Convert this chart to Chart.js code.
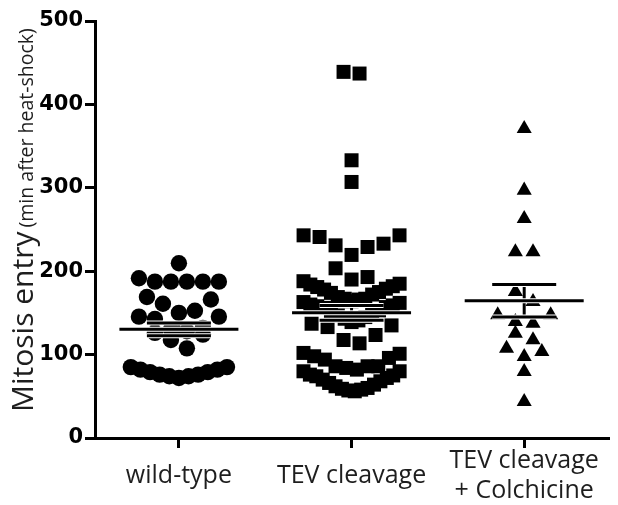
<!DOCTYPE html>
<html>
<head>
<meta charset="utf-8">
<script src="https://cdn.jsdelivr.net/npm/chart.js@4.4.1/dist/chart.umd.min.js"></script>
<style>
  html, body { margin: 0; padding: 0; background: #fff; }
  canvas { display: block; }
</style>
</head>
<body>
<canvas id="chart" width="618" height="505"></canvas>
<script>
// mitosis entry times, minutes after heat-shock
const groups = ['wild-type', 'TEV cleavage', ['TEV cleavage', '+ Colchicine']];
const positions = [1, 2, 3];
const yTicks = [0, 100, 200, 300, 400, 500];
const titleMain = 'Mitosis entry';
const titleUnit = '(min after heat-shock)';

const wildType = [209.5, 187.5, 187.5, 187.5, 187.5, 187.5, 191.5, 166, 169, 161,
  152.6, 150, 145.5, 142.7, 145.5, 132, 130, 128, 126, 124, 117.5, 107.5,
  85, 82, 79, 76, 74, 72, 74, 76, 79, 82, 85];

const tevCleavage = [439, 437, 333, 307,
  243, 241, 231, 219.5, 229, 233, 243,
  203.5, 193, 190,
  184, 181, 178, 174, 172, 175, 179, 182, 185, 188,
  169, 167, 166, 164, 162, 160, 158, 157, 156, 159, 163, 167,
  153, 151, 149, 147, 145, 143, 141, 139, 137, 135, 133,
  123.5, 117.5, 113.5,
  102, 98, 94, 86, 86, 86, 96, 101,
  84, 82, 80, 76, 74, 72, 68, 64, 60, 59, 57, 56, 58, 62, 66, 70, 75, 80];

const tevColchicine = [371, 297, 263, 223, 223, 175.5, 163.5, 147.5, 147.5, 139.5,
  137.5, 125.5, 117.5, 107.5, 103.5, 97.5, 79.5, 43.5];

const PX_PER_UNIT = 176; // x-axis pixels per column

// column scatter: values in the same band sit side by side,
// lowest in the middle, so each band bends into a smile
function columnScatter(values, centre, gapPx, halfPx, band) {
  const gapU = gapPx / PX_PER_UNIT, halfU = halfPx / PX_PER_UNIT;
  const sorted = [...values].sort((a, b) => a - b);
  const rows = [];
  sorted.forEach(v => {
    const row = rows[rows.length - 1];
    if (row && v - row[0] < band) row.push(v); else rows.push([v]);
  });
  const pts = [];
  rows.forEach(row => {
    const n = row.length;
    const gap = n > 1 ? Math.min(gapU, 2 * halfU / (n - 1)) : 0;
    const slots = row.map((_, k) => (k - (n - 1) / 2) * gap)
      .sort((a, b) => Math.abs(a) - Math.abs(b) || b - a);
    row.forEach((v, k) => pts.push({ x: centre + slots[k], y: v }));
  });
  return pts;
}

function stats(vals) {
  const n = vals.length;
  const mean = vals.reduce((s, v) => s + v, 0) / n;
  const sd = Math.sqrt(vals.reduce((s, v) => s + (v - mean) ** 2, 0) / (n - 1));
  return { mean, sem: sd / Math.sqrt(n) };
}

// mean line with SEM whiskers on top of each column
const meanSem = {
  id: 'meanSem',
  afterDatasetsDraw(chart) {
    const { ctx, scales: { x, y } } = chart;
    [wildType, tevCleavage, tevColchicine].forEach((vals, i) => {
      const { mean, sem } = stats(vals);
      const cx = x.getPixelForValue(positions[i]);
      const ym = y.getPixelForValue(mean);
      const yt = y.getPixelForValue(mean + sem);
      const yb = y.getPixelForValue(mean - sem);
      const segs = [
        [cx, yt, cx, yb],
        [cx - 32, yt, cx + 32, yt],
        [cx - 32, yb, cx + 32, yb],
        [cx - 59.5, ym, cx + 59.5, ym]
      ];
      ctx.save();
      ctx.lineCap = 'butt';
      segs.forEach((s, k) => {
        ctx.beginPath();
        ctx.moveTo(s[0], s[1]);
        ctx.lineTo(s[2], s[3]);
        if (k > 0) {
          // thin white edge keeps the bars apart where they cross the points
          ctx.strokeStyle = '#fff';
          ctx.lineWidth = 5;
          ctx.stroke();
        }
        ctx.strokeStyle = '#000';
        ctx.lineWidth = 3;
        ctx.stroke();
      });
      ctx.restore();
    });
  }
};

// y title mixes two font sizes, so it is drawn by hand
const yTitle = {
  id: 'yTitle',
  afterDraw(chart) {
    const ctx = chart.ctx;
    ctx.save();
    ctx.translate(33, 412);
    ctx.rotate(-Math.PI / 2);
    ctx.fillStyle = '#1e1e1e';
    ctx.textAlign = 'left';
    ctx.textBaseline = 'alphabetic';
    ctx.font = '30px "Open Sans"';
    ctx.fillText(titleMain, 0, 0);
    const w = ctx.measureText(titleMain).width;
    ctx.font = '19.5px "Open Sans"';
    ctx.fillText(titleUnit, w + 4, 0);
    ctx.restore();
  }
};

function draw() {
  new Chart(document.getElementById('chart'), {
    type: 'scatter',
    data: {
      datasets: [
        { label: 'wild-type', data: columnScatter(wildType, positions[0], 16.3, 49, 20),
          pointStyle: 'circle', pointRadius: 8.2, backgroundColor: '#000', borderWidth: 0 },
        { label: 'TEV cleavage', data: columnScatter(tevCleavage, positions[1], 16.3, 49, 25),
          pointStyle: 'rect', pointRadius: 9.9, backgroundColor: '#000', borderWidth: 0 },
        { label: 'TEV cleavage + Colchicine', data: columnScatter(tevColchicine, positions[2], 18, 30.5, 16),
          pointStyle: 'triangle', pointRadius: 8.7, backgroundColor: '#000', borderWidth: 0 }
      ]
    },
    options: {
      responsive: false,
      animation: false,
      devicePixelRatio: 1,
      layout: { padding: { top: 21, right: 0, bottom: 0, left: 0 } },
      plugins: { legend: { display: false }, tooltip: { enabled: false } },
      elements: { point: { hoverRadius: 0 } },
      scales: {
        x: {
          type: 'linear',
          min: 0.514,
          max: 3.486,
          afterBuildTicks: s => { s.ticks = positions.map(v => ({ value: v })); },
          afterFit: s => { s.height = 67; },
          ticks: {
            callback: (v, i) => groups[i],
            font: { family: '"Open Sans"', size: 25 },
            color: '#1e1e1e',
            padding: 13,
            maxRotation: 0,
            autoSkip: false,
            crossAlign: 'center'
          },
          grid: { drawOnChartArea: false, tickLength: 10, lineWidth: 3, tickWidth: 3, tickColor: '#000', color: '#000' },
          border: { color: '#000', width: 3 }
        },
        y: {
          min: 0,
          max: 500,
          afterBuildTicks: s => { s.ticks = yTicks.map(v => ({ value: v })); },
          afterFit: s => { s.width = 95; },
          ticks: {
            font: { family: '"DejaVu Sans"', weight: 'bold', size: 21 },
            color: '#000',
            padding: 2
          },
          grid: { drawOnChartArea: false, tickLength: 10, lineWidth: 3, tickWidth: 3, tickColor: '#000', color: '#000' },
          border: { color: '#000', width: 3 }
        }
      }
    },
    plugins: [meanSem, yTitle]
  });
}

Promise.all([
  document.fonts.load('30px "Open Sans"'),
  document.fonts.load('bold 21px "DejaVu Sans"')
]).then(draw, draw);
</script>
</body>
</html>
